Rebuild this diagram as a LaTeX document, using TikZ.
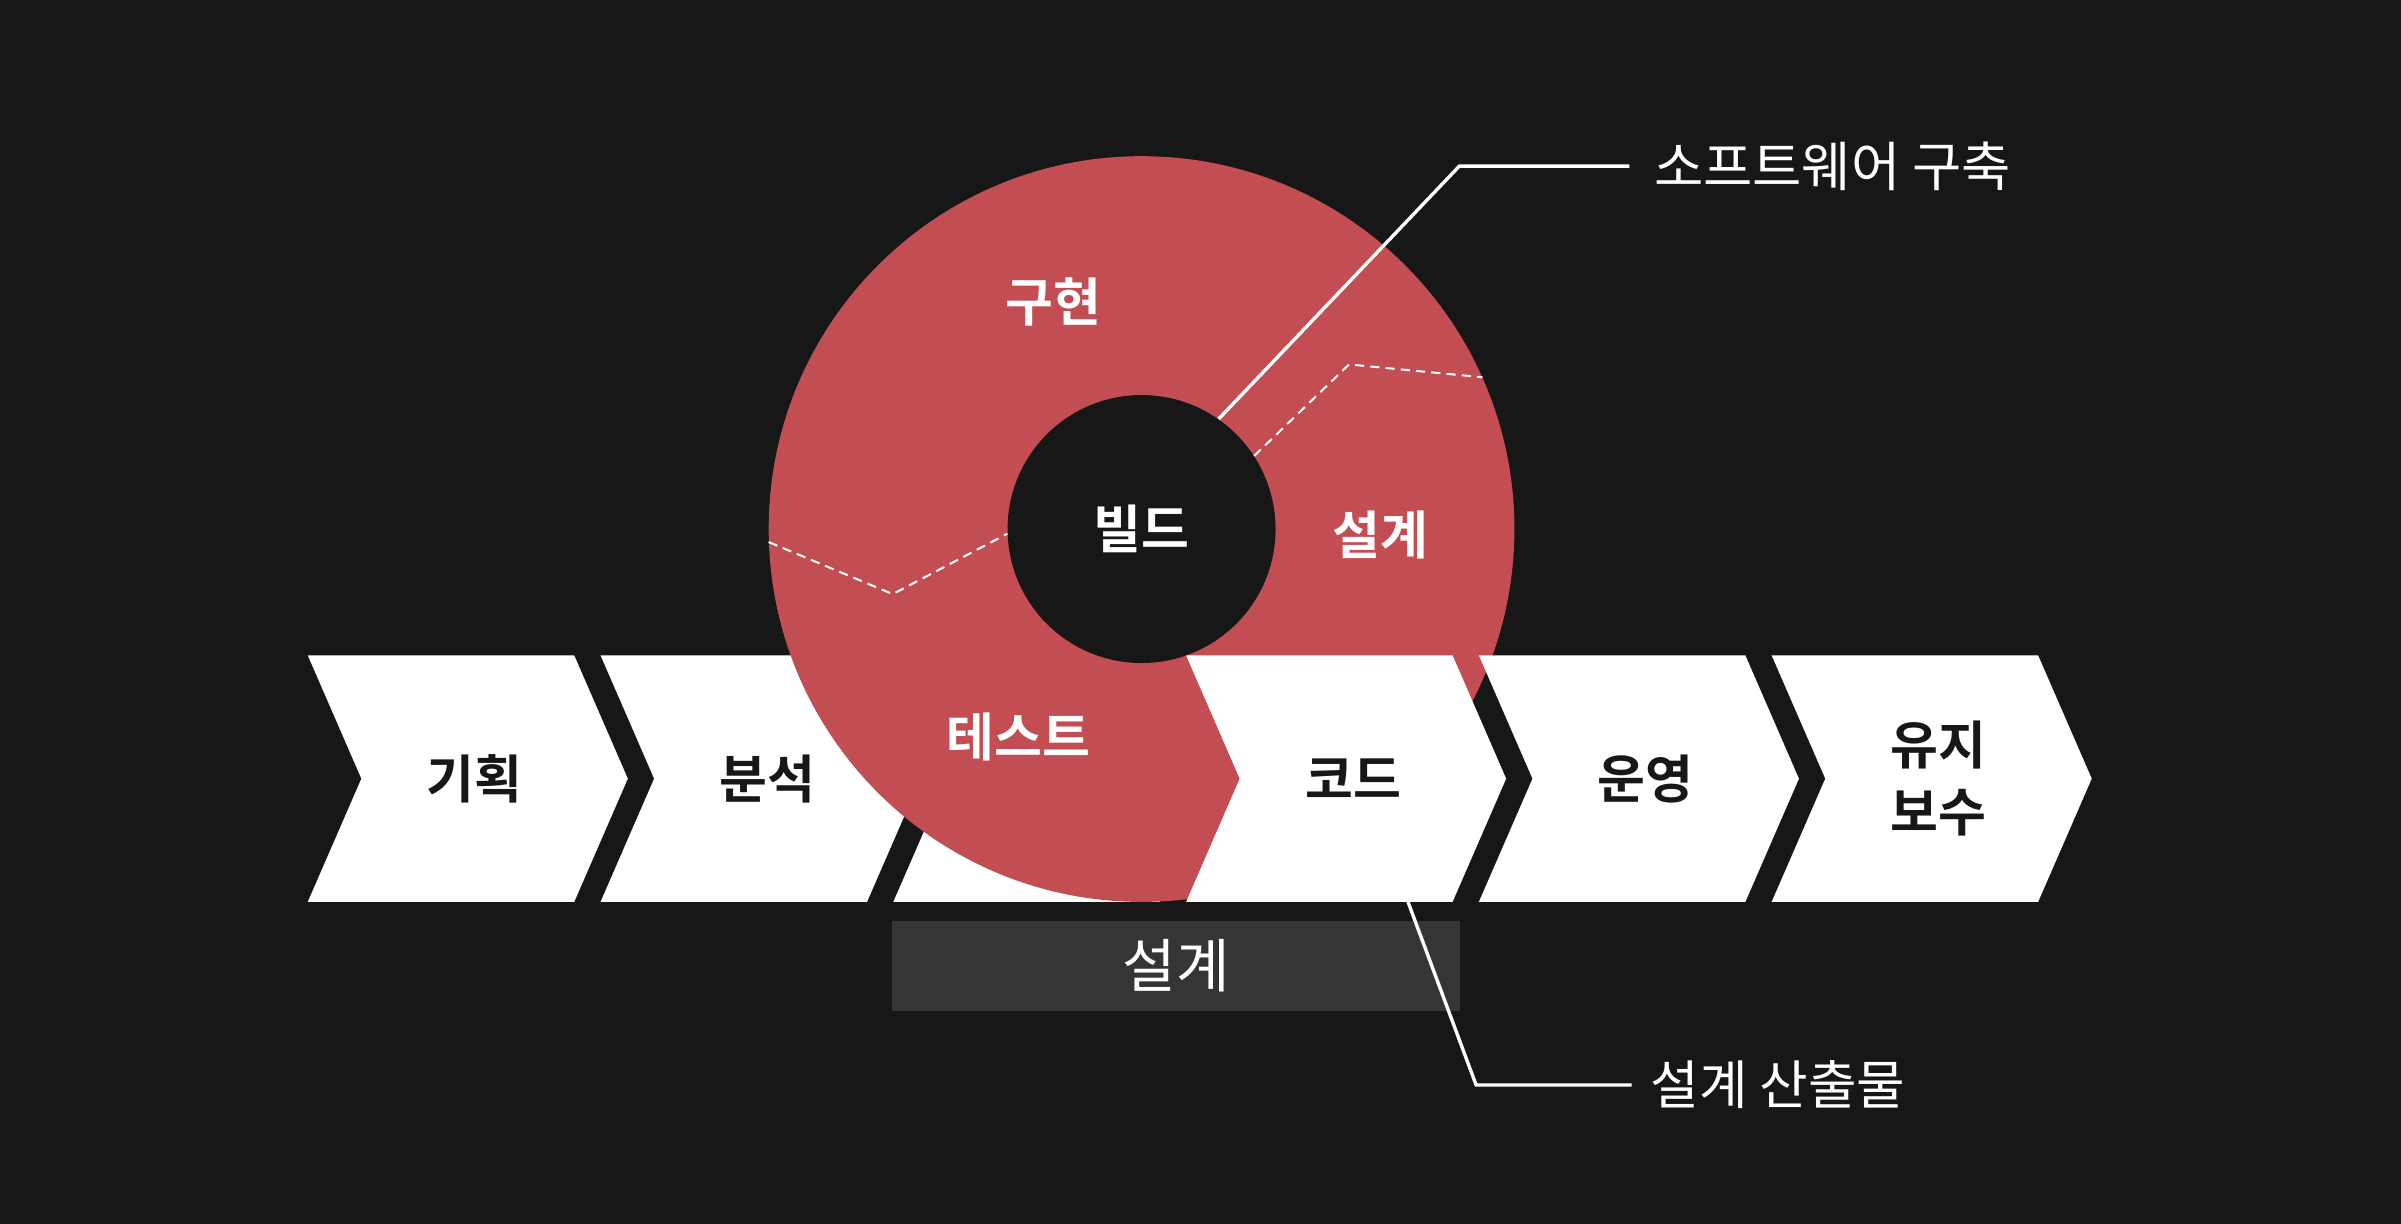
\documentclass[tikz,border=0pt]{standalone}
\usepackage{fontspec}
\setmainfont{Noto Sans CJK KR}[BoldFont={Noto Sans CJK KR Bold}]
\usepackage{xcolor}
\definecolor{bgdark}{HTML}{171717}
\definecolor{ringred}{HTML}{C24E54}
\definecolor{boxgrey}{HTML}{353535}

\begin{document}
\begin{tikzpicture}[x=1pt, y=-1pt,
        chevron/.style={fill=white},
        chevlabel/.style={font=\fontsize{34}{44}\selectfont\bfseries, text=bgdark, align=center},
        ringlabel/.style={font=\fontsize{34}{40}\selectfont\bfseries, text=white},
        leader/.style={draw=white, line width=2.2pt},
        divider/.style={draw=white, line width=1.3pt, dash pattern=on 6pt off 4pt},
        callout/.style={font=\fontsize{35}{40}\selectfont, text=white, anchor=west, inner sep=0pt}]
        \fill[bgdark] (0,0) rectangle (1568,799.3);
        \useasboundingbox (0,0) rectangle (1568,799.3);

        % Chevrons under the ring
        \foreach \i/\lbl in {0/기획, 1/분석, 2/} {
            \fill[chevron] ({201+191.2*\i},428) -- ++(174,0) -- ++(35,80.5) -- ++(-35,80.5) -- ++(-174,0) -- ++(35,-80.5) -- cycle;
            \node[chevlabel] (ch\i) at ({310+191.2*\i},508.5) {\lbl};
        }

        % Ring
        \node[circle, fill=ringred, minimum size=487pt, inner sep=0pt] (ring) at (745.5,345.5) {};
        \node[circle, fill=bgdark, minimum size=175pt, inner sep=0pt, ringlabel] (bld) at (745.5,345.5) {빌드};

        % Chevrons over the ring
        \foreach \i/\lbl in {3/코드, 4/운영, 5/{유지\\보수}} {
            \fill[chevron] ({201+191.2*\i},428) -- ++(174,0) -- ++(35,80.5) -- ++(-35,80.5) -- ++(-174,0) -- ++(35,-80.5) -- cycle;
            \node[chevlabel] (ch\i) at ({310+191.2*\i},508.5) {\lbl};
        }

        % Sectors
        \draw[divider] (ring.182.5) -- (583,388) -- (bld.182.3);
        \draw[divider] (bld.33.4) -- (881,238) -- (ring.24.7);
        \node[ringlabel] (impl) at (688,197) {구현};
        \node[ringlabel] (dsgn) at (901.6,349.6) {설계};
        \node[ringlabel] (test) at (665,481) {테스트};

        % Design bar
        \node[fill=boxgrey, minimum width=370.5pt, minimum height=58.5pt, inner sep=0pt,
            font=\fontsize{38}{40}\selectfont, text=white] (bar) at (768,630.7) {설계};

        % Callouts
        \node[callout] (swb) at (1080,108.5) {소프트웨어 구축};
        \node[callout, font=\fontsize{34.5}{40}\selectfont] (out) at (1077.6,708.6) {설계 산출물};
        \coordinate (cdb) at (919.5,589);
        \draw[leader] (bld.55.8) -- (953,108.5) -- ([xshift=-16pt]swb.west);
        \draw[leader] (cdb) -- (964,708.6) -- ([xshift=-12pt]out.west);
    \end{tikzpicture}
\end{document}
